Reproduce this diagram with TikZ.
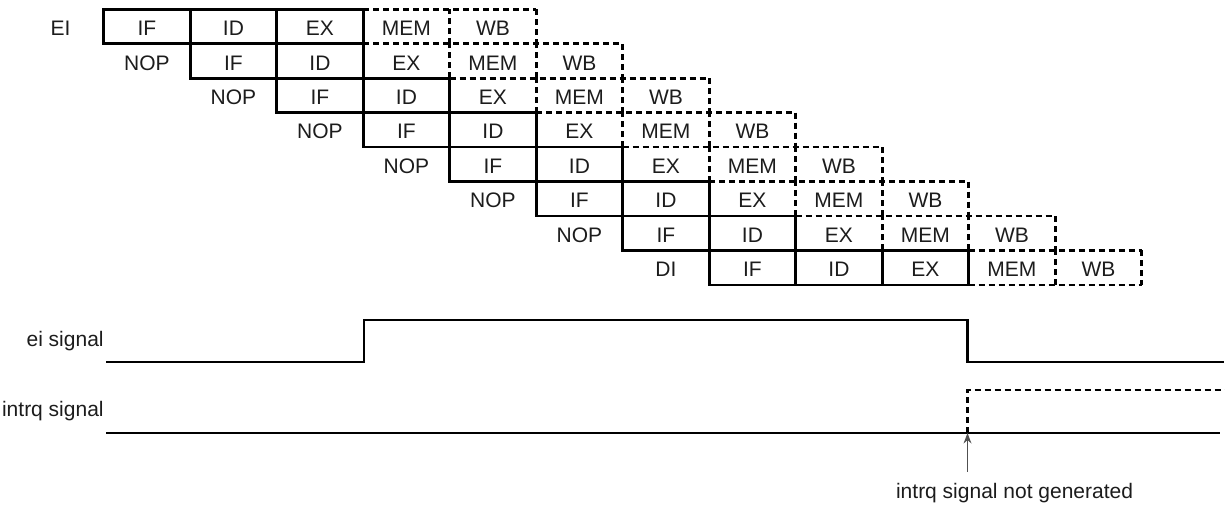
\documentclass[tikz,border=0pt]{standalone}
\usepackage{fontspec}
\setmainfont{Liberation Sans}
\usetikzlibrary{arrows.meta}
\definecolor{inkdark}{HTML}{1C1C1C}
\definecolor{arrowgray}{HTML}{505050}

\begin{document}
\begin{tikzpicture}[x=0.5pt, y=-0.5pt, >=Stealth,
    font=\fontsize{10.5}{12.6}\selectfont, text=inkdark,
    stagecell/.style={minimum width=43.25pt, minimum height=17.2pt, inner sep=0pt, outer sep=0pt,
        text height=9.1pt, text depth=0pt},
    wire/.style={line width=1.35pt, line join=miter},
    bubble/.style={line width=1.35pt, dash pattern=on 3pt off 2pt}]

    \useasboundingbox (0,0) rectangle (1225,506);

    % Pipeline rows: label, IF, ID, EX, MEM, WB
    \foreach \r/\lbl in {0/EI,1/NOP,2/NOP,3/NOP,4/NOP,5/NOP,6/NOP,7/DI} {
        \pgfmathsetmacro{\yc}{9.3+34.45*(\r+0.5)}
        \foreach \s/\txt [count=\k from 0] in {lab/\lbl,if/IF,id/ID,ex/EX,mem/MEM,wb/WB} {
            \pgfmathsetmacro{\xc}{103.7+86.5*(\r-1+\k+0.5)}
            \node[stagecell] (\s\r) at (\xc,\yc) {\txt};
        }
    }

    % Dashed stages
    \foreach \r/\first in {0/mem,1/ex,2/ex,3/ex,4/ex,5/ex,6/ex,7/mem}
        \draw[bubble] (\first\r.north west) -- (wb\r.north east);
    \foreach \r in {0,...,7} {
        \draw[bubble] (mem\r.south west) -- (mem\r.north west);
        \draw[bubble] (wb\r.south west) -- (wb\r.north west);
        \draw[bubble] (wb\r.north east) -- (wb\r.south east);
    }
    \draw[bubble] (mem7.south west) -- (wb7.south east);

    % Solid stages
    \foreach \r in {0,...,7} {
        \draw[wire] (if\r.south west) rectangle (id\r.north east);
        \draw[wire] (if\r.north east) -- (if\r.south east);
    }
    \foreach \r in {0,7}
        \draw[wire] (ex\r.south west) rectangle (ex\r.north east);

    % ei signal
    \node[anchor=base east] (eilab) at (110.7,346.7) {ei signal};
    \draw[wire] (106,362) -- (364,362) -- (364,320) -- (967.5,320) -- (967.5,362) -- (1224,362);

    % intrq signal
    \node[anchor=base east] (intrqlab) at (110.7,416.7) {intrq signal};
    \coordinate (miss) at (967.5,433);
    \draw[wire] (106,433) -- (1220,433);
    \draw[bubble] (miss) -- (967.5,390) -- (1225,390);

    % Note
    \node[anchor=base west] (note) at (889,498.3) {intrq signal not generated};
    \coordinate (notetip) at (967.5,471.7);
    \draw[->, arrowgray, line width=0.5pt] (notetip) -- (miss);

\end{tikzpicture}
\end{document}
